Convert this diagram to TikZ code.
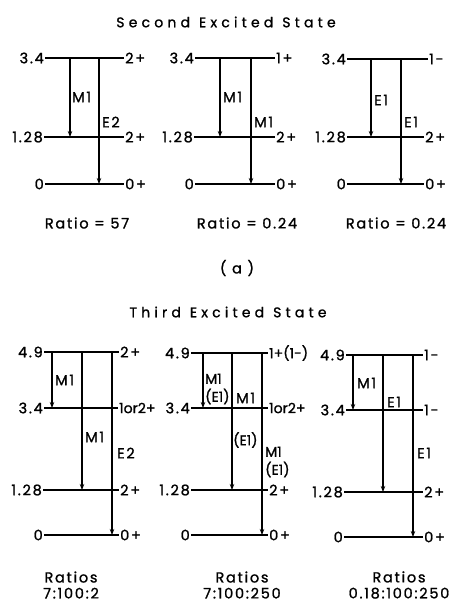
\documentclass[tikz,border=0pt]{standalone}
\usepackage{fontspec}
\newfontfamily\leroy[LetterSpace=12,FakeBold=1.2]{Poppins}
\newfontfamily\leroytight[LetterSpace=0,FakeBold=1.2]{Poppins}
\newfontfamily\leroywide[LetterSpace=30,FakeBold=1.2]{Poppins}
\usetikzlibrary{arrows.meta}
\tikzset{
  lvl/.style={line width=1.1pt},
  trans/.style={line width=1.1pt, -{Stealth[length=6pt,width=4.5pt]}},
  elab/.style={anchor=east, inner sep=1pt, font=\leroy\fontsize{14.5}{15}\selectfont},
  jlab/.style={anchor=west, inner sep=1pt, font=\leroy\fontsize{14.5}{15}\selectfont},
  jtight/.style={jlab, font=\leroytight\fontsize{14}{15}\selectfont},
  mlab/.style={anchor=west, inner sep=1pt, align=left, font=\leroy\fontsize{14.5}{18}\selectfont},
  mtight/.style={mlab, font=\leroytight\fontsize{14}{18}\selectfont},
  ratiotxt/.style={align=center, inner sep=0pt, font=\leroy\fontsize{14.5}{16}\selectfont},
  head/.style={inner sep=0pt, font=\leroywide\fontsize{14}{15}\selectfont}
}
\begin{document}
\begin{tikzpicture}[x=1pt, y=-1pt]
  \useasboundingbox (0,0) rectangle (455,603);

  % (a) second excited state
  \node[head] (heada) at (226,22) {Second\hspace{9pt}Excited\hspace{9pt}State};

  % a1: M1 / E2
  \node[elab] (a1t) at (45,58) {3.4};   \node[jlab] (a1tj) at (124,58) {2+};
  \node[elab] (a1m) at (44,137) {1.28}; \node[jlab] (a1mj) at (124,137) {2+};
  \node[elab] (a1g) at (45,184) {0};    \node[jlab] (a1gj) at (124,184) {0+};
  \draw[lvl] (a1t.east) -- (a1tj.west);
  \draw[lvl] (a1m.east) -- (a1mj.west);
  \draw[lvl] (a1g.east) -- (a1gj.west);
  \coordinate (a1p) at (70,58);
  \coordinate (a1q) at (99,58);
  \draw[trans] (a1p) -- (a1p |- a1m.east);
  \draw[trans] (a1q) -- (a1q |- a1g.east);
  \node[mlab] (a1pl) at (71,97) {M1};
  \node[mlab] (a1ql) at (101,122) {E2};
  \node[ratiotxt] (a1r) at (87,223) {Ratio = 57};

  % a2: M1 / M1
  \node[elab] (a2t) at (195,58) {3.4};   \node[jlab] (a2tj) at (275,58) {1+};
  \node[elab] (a2m) at (194,137) {1.28}; \node[jlab] (a2mj) at (275,137) {2+};
  \node[elab] (a2g) at (195,184) {0};    \node[jlab] (a2gj) at (275,184) {0+};
  \draw[lvl] (a2t.east) -- (a2tj.west);
  \draw[lvl] (a2m.east) -- (a2mj.west);
  \draw[lvl] (a2g.east) -- (a2gj.west);
  \coordinate (a2p) at (220,58);
  \coordinate (a2q) at (251,58);
  \draw[trans] (a2p) -- (a2p |- a2m.east);
  \draw[trans] (a2q) -- (a2q |- a2g.east);
  \node[mlab] (a2pl) at (222,97) {M1};
  \node[mlab] (a2ql) at (253,122) {M1};
  \node[ratiotxt] (a2r) at (247,223) {Ratio = 0.24};

  % a3: E1 / E1
  \node[elab] (a3t) at (347,59) {3.4};   \node[jlab] (a3tj) at (428,59) {1-};
  \node[elab] (a3m) at (347,137) {1.28}; \node[jlab] (a3mj) at (424,137) {2+};
  \node[elab] (a3g) at (347,184) {0};    \node[jlab] (a3gj) at (424,184) {0+};
  \draw[lvl] (a3t.east) -- (a3tj.west);
  \draw[lvl] (a3m.east) -- (a3mj.west);
  \draw[lvl] (a3g.east) -- (a3gj.west);
  \coordinate (a3p) at (371,59);
  \coordinate (a3q) at (401,59);
  \draw[trans] (a3p) -- (a3p |- a3m.east);
  \draw[trans] (a3q) -- (a3q |- a3g.east);
  \node[mlab] (a3pl) at (373,100) {E1};
  \node[mlab] (a3ql) at (403,122) {E1};
  \node[ratiotxt] (a3r) at (396,223) {Ratio = 0.24};

  \node[ratiotxt] (suba) at (237,268) {( a )};

  % (b) third excited state
  \node[head] (headb) at (228,312) {Third\hspace{9pt}Excited\hspace{9pt}State};

  % b1: M1 / M1 / E2
  \node[elab] (b1t) at (44,352) {4.9};  \node[jlab] (b1tj) at (119,352) {2+};
  \node[elab] (b1s) at (44,408) {3.4};  \node[jtight] (b1sj) at (118,408) {1or2+};
  \node[elab] (b1m) at (43,490) {1.28}; \node[jlab] (b1mj) at (119,490) {2+};
  \node[elab] (b1g) at (44,535) {0};    \node[jlab] (b1gj) at (119,535) {0+};
  \draw[lvl] (b1t.east) -- (b1tj.west);
  \draw[lvl] (b1s.east) -- (b1sj.west);
  \draw[lvl] (b1m.east) -- (b1mj.west);
  \draw[lvl] (b1g.east) -- (b1gj.west);
  \coordinate (b1p) at (52,352);
  \coordinate (b1q) at (82,352);
  \coordinate (b1r) at (112,352);
  \draw[trans] (b1p) -- (b1p |- b1s.east);
  \draw[trans] (b1q) -- (b1q |- b1m.east);
  \draw[trans] (b1r) -- (b1r |- b1g.east);
  \node[mlab] (b1pl) at (54,380) {M1};
  \node[mlab] (b1ql) at (84,437) {M1};
  \node[mlab] (b1rl) at (116,453) {E2};
  \node[ratiotxt] (b1c) at (71,585) {Ratios\\7:100:2};

  % b2: M1(E1) / M1(E1) / M1(E1)
  \node[elab] (b2t) at (191,353) {4.9};  \node[jtight] (b2tj) at (268,353) {1+(1-)};
  \node[elab] (b2s) at (191,408) {3.4};  \node[jtight] (b2sj) at (268,408) {1or2+};
  \node[elab] (b2m) at (191,490) {1.28}; \node[jlab] (b2mj) at (268,490) {2+};
  \node[elab] (b2g) at (191,535) {0};    \node[jlab] (b2gj) at (268,535) {0+};
  \draw[lvl] (b2t.east) -- (b2tj.west);
  \draw[lvl] (b2s.east) -- (b2sj.west);
  \draw[lvl] (b2m.east) -- (b2mj.west);
  \draw[lvl] (b2g.east) -- (b2gj.west);
  \coordinate (b2p) at (203,353);
  \coordinate (b2q) at (232,353);
  \coordinate (b2r) at (262,353);
  \draw[trans] (b2p) -- (b2p |- b2s.east);
  \draw[trans] (b2q) -- (b2q |- b2m.east);
  \draw[trans] (b2r) -- (b2r |- b2g.east);
  \node[mtight] (b2pl) at (204,389) {M1\\(E1)};
  \node[mlab] (b2ql) at (235,398) {M1};
  \node[mtight] (b2qe) at (232,440) {(E1)};
  \node[mtight] (b2rl) at (264,462) {M1\\(E1)};
  \node[ratiotxt] (b2c) at (242,585) {Ratios\\7:100:250};

  % b3: M1 / E1 / E1
  \node[elab] (b3t) at (346,355) {4.9};  \node[jlab] (b3tj) at (423,355) {1-};
  \node[elab] (b3s) at (346,410) {3.4};  \node[jlab] (b3sj) at (423,410) {1-};
  \node[elab] (b3m) at (344,492) {1.28}; \node[jlab] (b3mj) at (423,492) {2+};
  \node[elab] (b3g) at (344,537) {0};    \node[jlab] (b3gj) at (423,537) {0+};
  \draw[lvl] (b3t.east) -- (b3tj.west);
  \draw[lvl] (b3s.east) -- (b3sj.west);
  \draw[lvl] (b3m.east) -- (b3mj.west);
  \draw[lvl] (b3g.east) -- (b3gj.west);
  \coordinate (b3p) at (353,355);
  \coordinate (b3q) at (383,355);
  \coordinate (b3r) at (413,355);
  \draw[trans] (b3p) -- (b3p |- b3s.east);
  \draw[trans] (b3q) -- (b3q |- b3m.east);
  \draw[trans] (b3r) -- (b3r |- b3g.east);
  \node[mlab] (b3pl) at (356,383) {M1};
  \node[mlab] (b3ql) at (386,402) {E1};
  \node[mlab] (b3rl) at (416,453) {E1};
  \node[ratiotxt] (b3c) at (399,585) {Ratios\\0.18:100:250};
\end{tikzpicture}
\end{document}
